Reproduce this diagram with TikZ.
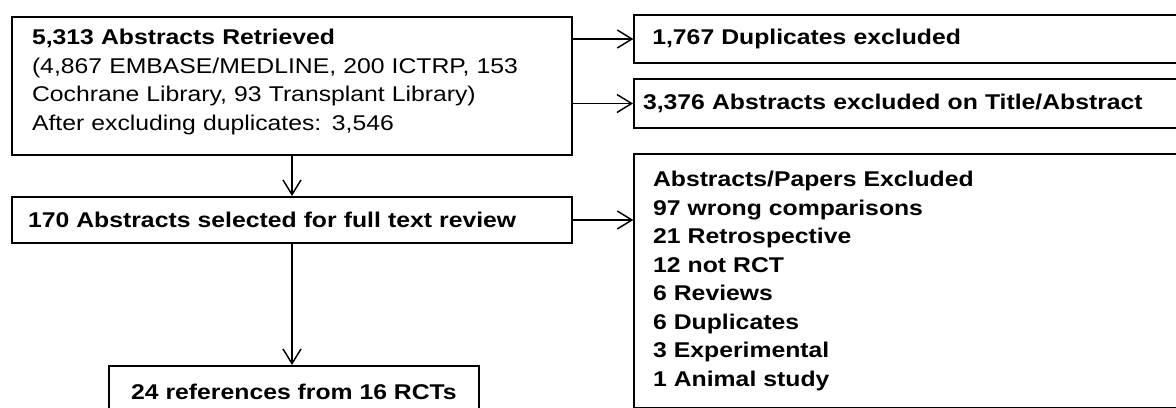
\documentclass[tikz,border=0pt]{standalone}
\usepackage{fontspec}
\setmainfont{Liberation Sans}[FakeStretch=1.16]
\usetikzlibrary{arrows.meta}

\tikzset{every picture/.style={line width=0.75pt}}
\tikzset{
  box/.style={draw, rectangle, line width=1.5pt, inner ysep=0pt, align=left,
    font=\fontsize{16pt}{21.4pt}\selectfont},
  arr/.style={line width=1.1pt, -{Straight Barb[length=11pt,width=13.5pt]}},
}

\begin{document}
\begin{tikzpicture}[x=0.75pt,y=0.75pt,yscale=-1,xscale=1]
    \clip (0,0) rectangle (1176,407);

    %Shape: Rectangle
    \node[box, minimum width=420pt, minimum height=103.5pt, text width=390pt, inner xsep=15pt] (retrieved) at (292,86)
      {\textbf{5,313 Abstracts Retrieved}\\(4,867 EMBASE/MEDLINE, 200 ICTRP, 153\\Cochrane Library, 93 Transplant Library)\\After excluding duplicates: 3,546\rule[-9pt]{0pt}{0pt}};
    %Shape: Rectangle
    \node[box, minimum height=36pt, text width=397pt, inner xsep=13.5pt] (dupl) at (917,39)
      {\textbf{1,767 Duplicates excluded}};
    %Shape: Rectangle
    \node[box, minimum height=36.75pt, text width=411pt, inner xsep=6.75pt] (titleabs) at (917,103.5)
      {\textbf{3,376 Abstracts excluded on Title/Abstract}};
    %Shape: Rectangle
    \node[box, minimum height=34.5pt, text width=396pt, inner xsep=12pt] (fulltext) at (292,220)
      {\textbf{170 Abstracts selected for full text review}};
    %Shape: Rectangle
    \node[box, minimum height=190.5pt, text width=396pt, inner xsep=14pt] (excl) at (917,281)
      {\textbf{Abstracts/Papers Excluded}\\\textbf{97 wrong comparisons}\\\textbf{21 Retrospective}\\\textbf{12 not RCT}\\\textbf{6 Reviews}\\\textbf{6 Duplicates}\\\textbf{3 Experimental}\\\textbf{1 Animal study}};
    %Shape: Rectangle
    \node[box, align=center, minimum width=277.5pt, minimum height=39pt] (included) at (294,392)
      {\textbf{24 references from 16 RCTs}};

    %Straight Lines
    \draw[arr] (dupl.west -| retrieved.east) -- (dupl.west);
    \draw[arr] (titleabs.west -| retrieved.east) -- (titleabs.west);
    \draw[arr] (fulltext.east) -- (fulltext.east -| excl.west);
    \draw[arr] (retrieved.south) -- (fulltext.north);
    \draw[arr] (fulltext.south) -- (fulltext.south |- included.north);

\end{tikzpicture}
\end{document}
